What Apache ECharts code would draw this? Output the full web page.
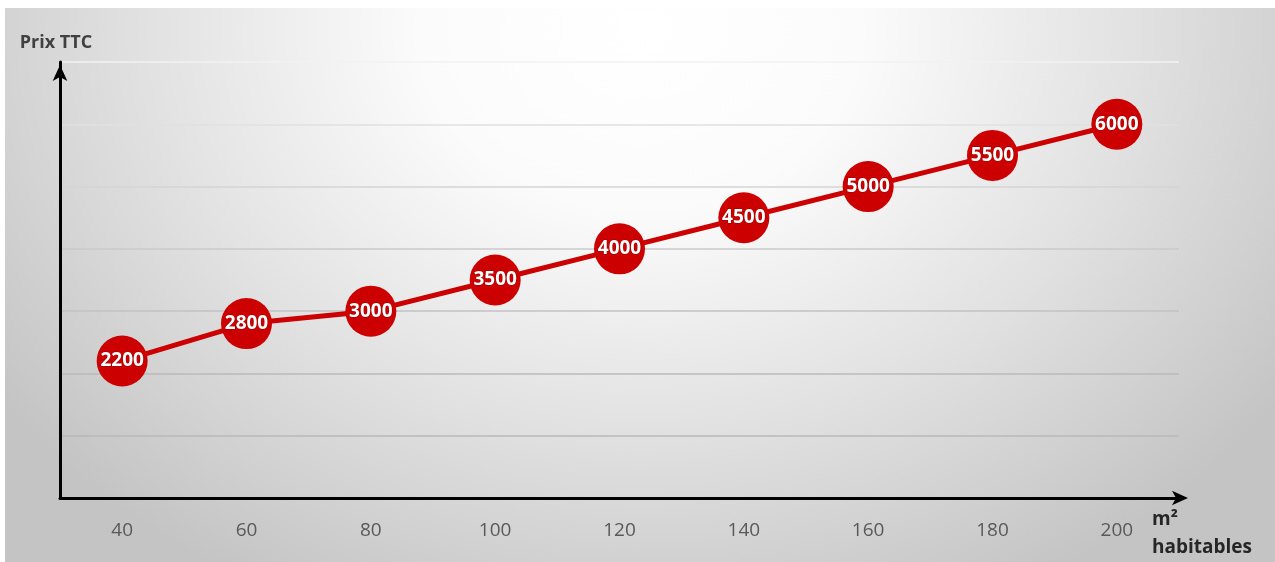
<!DOCTYPE html>
<html>
<head>
<meta charset="utf-8">
<script src="https://cdn.jsdelivr.net/npm/echarts@6/dist/echarts.min.js"></script>
<style>
  html, body { margin: 0; padding: 0; background: #ffffff; }
  #wrap { position: relative; width: 1275px; height: 562px; overflow: hidden; }
  #bg { position: absolute; left: 5px; top: 8px; width: 1270px; height: 554px;
        background: radial-gradient(ellipse 62% 115% at 50% 4%, #ffffff 0%, #fbfbfb 28%, #e2e2e2 62%, #c4c4c4 100%); }
  #chart { position: absolute; left: 0; top: 0; width: 1275px; height: 562px; }
</style>
</head>
<body>
<div id="wrap"><div id="bg"></div><div id="chart"></div></div>
<script>
const categories = ['40', '60', '80', '100', '120', '140', '160', '180', '200'];
const prices = [2200, 2800, 3000, 3500, 4000, 4500, 5000, 5500, 6000];
const yAxisName = 'Prix TTC';
const xAxisName = 'm²\nhabitables';

const chart = echarts.init(document.getElementById('chart'), null, { renderer: 'canvas' });
chart.setOption({
  backgroundColor: 'transparent',
  animation: false,
  grid: { left: 60, right: 96, top: 62, bottom: 62, containLabel: false },
  xAxis: {
    type: 'category',
    data: categories,
    boundaryGap: true,
    name: xAxisName,
    nameLocation: 'end',
    nameGap: -27,
    nameTextStyle: {
      fontFamily: 'Open Sans', fontWeight: 'bold', fontSize: 19, color: '#262626',
      align: 'left', verticalAlign: 'top', lineHeight: 28, padding: [8, 0, 0, 0]
    },
    axisLine: { show: true, symbol: ['none', 'arrow'], symbolSize: [11, 16], symbolOffset: [0, 9],
      lineStyle: { color: '#000000', width: 3 } },
    axisTick: { show: false },
    axisLabel: { margin: 23, fontFamily: 'Open Sans', fontSize: 19, color: '#595959' },
    splitLine: { show: false }
  },
  yAxis: {
    type: 'value',
    min: 0, max: 7000, interval: 1000,
    name: yAxisName,
    nameLocation: 'end',
    nameGap: 19,
    nameTextStyle: {
      fontFamily: 'Open Sans', fontWeight: 'bold', fontSize: 18, color: '#404040',
      align: 'center', verticalAlign: 'middle', padding: [0, 8, 0, 0]
    },
    axisLine: { show: true, symbol: ['none', 'arrow'], symbolSize: [11, 16], symbolOffset: [0, -3],
      lineStyle: { color: '#000000', width: 3 } },
    axisTick: { show: false },
    axisLabel: { show: false },
    splitLine: { show: true, lineStyle: { width: 1.5,
      color: ['#b8b8b8', '#b8b8b8', '#bababa', '#c2c2c2', '#cacaca', '#d4d4d4', '#e0e0e0', '#f2f2f2'] } }
  },
  series: [{
    type: 'line',
    data: prices,
    symbol: 'circle',
    symbolSize: 51,
    lineStyle: { color: '#cc0000', width: 5 },
    itemStyle: { color: '#cc0000' },
    label: {
      show: true, position: 'inside',
      fontFamily: 'Open Sans', fontWeight: 'bold', fontSize: 19, color: '#ffffff',
      textBorderColor: 'rgba(120,0,0,0.6)', textBorderWidth: 1
    },
    z: 5
  }]
});
</script>
</body>
</html>
